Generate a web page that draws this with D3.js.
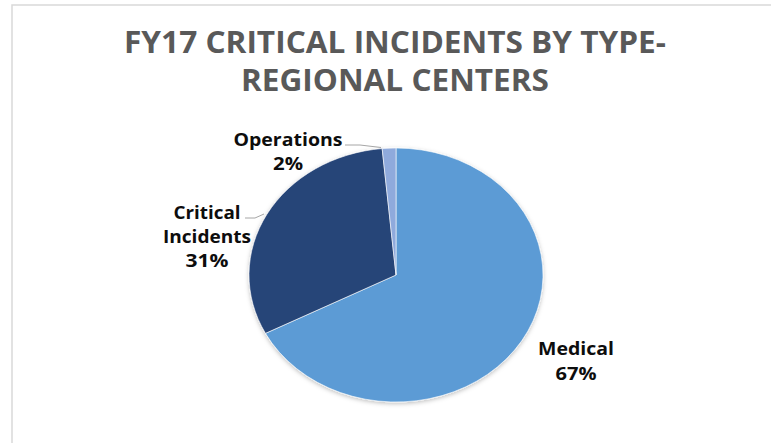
<!DOCTYPE html>
<html>
<head>
<meta charset="utf-8">
<script src="https://cdn.jsdelivr.net/npm/d3@7"></script>
<style>
html,body{margin:0;padding:0;background:#fff;}
svg{display:block;}
</style>
</head>
<body>
<svg id="chart" width="771" height="443"></svg>
<script>
const titleLines = ["FY17 CRITICAL INCIDENTS BY TYPE-", "REGIONAL CENTERS"];
const categories = ["Medical", "Critical Incidents", "Operations"];
const values = [67.4, 31.1, 1.5];
const colors = ["#5B9BD5", "#264478", "#8FAADC"];

const svg = d3.select("#chart");
svg.append("rect").attr("width", 771).attr("height", 443).attr("fill", "#fff");
// chart frame (partially visible)
svg.append("rect").attr("x", 12).attr("y", 5).attr("width", 820).attr("height", 500)
  .attr("fill", "none").attr("stroke", "#d9d9d9").attr("stroke-width", 1.5);

// Title
const titleFont = "'Open Sans', 'DejaVu Sans', sans-serif";
const titleSpec = [{y: 53, w: 542}, {y: 91, w: 308}];
svg.selectAll("text.title").data(titleLines).enter().append("text")
  .attr("class", "title")
  .attr("x", 395).attr("y", (d, i) => titleSpec[i].y)
  .attr("text-anchor", "middle")
  .attr("font-family", titleFont).attr("font-weight", "bold")
  .attr("font-size", 31).attr("fill", "#595959")
  .attr("textLength", (d, i) => titleSpec[i].w)
  .attr("lengthAdjust", "spacingAndGlyphs")
  .text(d => d);

// Pie (elliptical, as in reference)
const cx = 396, cy = 275, ry = 127, rx = 147;
const defs = svg.append("defs");
const f = defs.append("filter").attr("id", "sh").attr("x", "-20%").attr("y", "-20%").attr("width", "140%").attr("height", "140%");
f.append("feDropShadow").attr("dx", 0).attr("dy", 1.5).attr("stdDeviation", 2).attr("flood-color", "#000").attr("flood-opacity", 0.25);

const pie = d3.pie().sort(null).value(d => d)(values);
const arc = d3.arc().innerRadius(0).outerRadius(ry);
const g = svg.append("g").attr("transform", `translate(${cx},${cy}) scale(${rx / ry},1)`)
  .attr("filter", "url(#sh)");
g.selectAll("path").data(pie).enter().append("path")
  .attr("d", arc)
  .attr("fill", (d, i) => colors[i])
  .attr("stroke", "#fff").attr("stroke-width", 0.6)
  .attr("vector-effect", "non-scaling-stroke");

// Labels
const total = d3.sum(values);
const pct = v => Math.round(v / total * 100) + "%";
const labelFont = "'Open Sans', 'DejaVu Sans', sans-serif";
const labelSpec = [
  {x: 576, ys: [355, 380], lines: ["Medical", pct(values[0])], widths: [76, 41]},
  {x: 207, ys: [219, 243, 267], lines: ["Critical", "Incidents", pct(values[1])], widths: [67, 88, 43]},
  {x: 288, ys: [146, 170], lines: ["Operations", pct(values[2])], widths: [109, 30]}
];
labelSpec.forEach(s => {
  const t = svg.append("g");
  s.lines.forEach((ln, j) => {
    t.append("text").attr("x", s.x).attr("y", s.ys[j])
      .attr("text-anchor", "middle")
      .attr("font-family", labelFont).attr("font-weight", "bold")
      .attr("font-size", 17).attr("fill", "#0d0d0d")
      .attr("textLength", s.widths[j]).attr("lengthAdjust", "spacingAndGlyphs")
      .text(ln);
  });
});

// Leader lines
const leaders = [
  [[345, 145], [360, 145], [381, 147.5]],
  [[245, 218], [255, 218], [264, 214]]
];
svg.selectAll("path.leader").data(leaders).enter().append("path")
  .attr("class", "leader")
  .attr("d", d3.line())
  .attr("fill", "none").attr("stroke", "#a6a6a6").attr("stroke-width", 1);
</script>
</body>
</html>
